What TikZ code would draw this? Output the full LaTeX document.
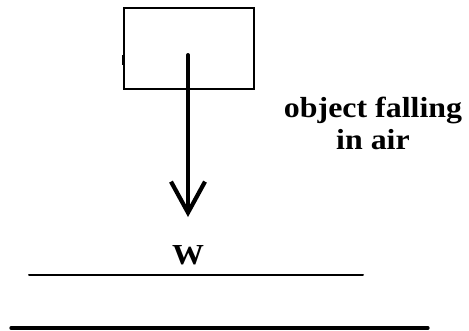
\documentclass[tikz,border=0pt]{standalone}
\usepackage{fontspec}
\setmainfont{Liberation Serif}
\usetikzlibrary{arrows.meta}

\begin{document}
\begin{tikzpicture}[x=1pt,y=-1pt,>={Straight Barb[length=31pt,width=34pt,line width=4.2pt]},
  font=\fontsize{29}{32}\selectfont\bfseries,line cap=round]
\useasboundingbox (0,0) rectangle (469,330);
\node[draw,line width=1.8pt,minimum width=130pt,minimum height=81pt,anchor=north west,inner sep=0pt] (object) at (123,7) {};
\draw[line width=3pt,line cap=butt] (object.west) ++(0,7) -- ++(0,10);
\coordinate (start) at (188,55);
\coordinate (tip) at (188,217);
\draw[->,line width=4pt] (start) -- (tip);
\node[align=center,xscale=1.1,inner sep=0pt,anchor=base] (label) at (373,149) {object falling\\in air};
\node[xscale=1.1,inner sep=0pt,anchor=base] (weight) at (188,264) {W};
\draw[line width=2pt] (29,275) -- (363,275);
\draw[line width=3.3pt] (11,328) -- (428,328);
\end{tikzpicture}
\end{document}
